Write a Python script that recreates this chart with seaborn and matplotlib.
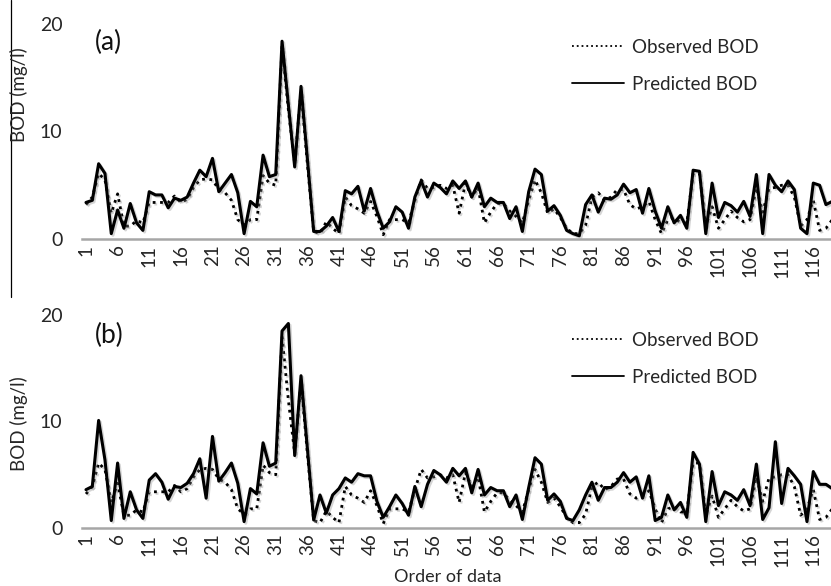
import matplotlib
matplotlib.use("Agg")
import matplotlib.pyplot as plt
import matplotlib.patheffects as pe
from matplotlib.lines import Line2D
import seaborn as sns
import pandas as pd

# data (order 1..119)
order = list(range(1, 120))

observed = [3.2, 3.9, 6.1, 5.5, 2.4, 4.2, 1.2, 1.2, 1.7, 1.5,
            3.4, 3.4, 3.4, 3.4, 4.0, 3.4, 3.7, 4.8, 5.5, 5.6,
            5.5, 4.6, 4.3, 3.6, 1.8, 1.3, 1.8, 1.8, 5.9, 5.2,
            5.0, 18.0, 12.0, 7.0, 13.8, 7.0, 0.7, 0.5, 1.6, 1.0,
            0.5, 3.9, 3.1, 2.8, 2.4, 3.5, 2.1, 0.4, 1.8, 1.8,
            1.8, 1.5, 3.6, 5.5, 4.7, 4.8, 5.0, 4.7, 5.0, 2.4,
            5.2, 3.9, 4.8, 1.5, 2.5, 3.3, 3.3, 2.6, 2.1, 1.5,
            3.6, 5.5, 4.3, 2.4, 2.8, 2.0, 1.0, 0.5, 0.5, 1.3,
            3.9, 4.3, 3.6, 3.9, 4.6, 4.6, 3.2, 2.8, 3.0, 3.5,
            1.8, 0.5, 1.8, 2.0, 1.5, 1.5, 6.1, 6.1, 1.2, 3.0,
            1.0, 1.8, 2.6, 2.0, 1.6, 1.8, 4.8, 2.5, 4.7, 4.8,
            5.0, 5.0, 3.9, 1.2, 1.8, 3.6, 0.8, 1.0, 1.8]

predicted_a = [3.4, 3.6, 7.0, 6.1, 0.5, 2.7, 1.0, 3.3, 1.5, 0.8,
               4.4, 4.1, 4.1, 2.9, 3.8, 3.6, 3.9, 5.2, 6.4, 5.8,
               7.5, 4.4, 5.2, 6.0, 4.3, 0.5, 3.5, 3.0, 7.8, 5.8,
               6.0, 18.4, 12.5, 6.7, 14.2, 7.5, 0.7, 0.7, 1.2, 2.0,
               0.7, 4.5, 4.2, 4.9, 2.6, 4.7, 2.6, 1.0, 1.6, 3.0,
               2.5, 1.0, 3.9, 5.4, 3.9, 5.2, 4.8, 4.2, 5.4, 4.7,
               5.4, 3.9, 5.2, 3.0, 3.8, 3.4, 3.4, 1.9, 3.0, 0.7,
               4.4, 6.5, 6.0, 2.6, 3.1, 2.2, 0.8, 0.5, 0.3, 3.2,
               4.1, 2.5, 3.8, 3.7, 4.1, 5.1, 4.3, 4.6, 2.4, 4.7,
               2.6, 1.0, 3.0, 1.5, 2.2, 1.0, 6.4, 6.3, 0.5, 5.2,
               2.0, 3.4, 3.1, 2.5, 3.5, 2.1, 6.0, 0.5, 6.0, 5.0,
               4.4, 5.4, 4.6, 1.0, 0.5, 5.2, 5.0, 3.2, 3.5]

predicted_b = [3.6, 3.9, 10.1, 6.4, 0.7, 6.1, 0.9, 3.4, 1.7, 0.9,
               4.5, 5.1, 4.3, 2.7, 3.9, 3.8, 4.2, 5.1, 6.5, 2.8,
               8.6, 4.4, 5.2, 6.1, 4.2, 0.6, 3.7, 3.2, 8.0, 5.8,
               6.1, 18.5, 19.2, 6.8, 14.3, 7.5, 0.75, 3.1, 1.4, 3.1,
               3.7, 4.7, 4.3, 5.1, 4.9, 4.9, 2.5, 1.0, 2.0, 3.1,
               2.3, 1.2, 3.9, 2.0, 4.1, 5.4, 5.0, 4.3, 5.6, 4.9,
               5.6, 3.3, 5.5, 3.1, 3.8, 3.5, 3.5, 2.0, 3.1, 0.8,
               3.8, 6.6, 6.0, 2.6, 3.2, 2.5, 0.9, 0.7, 1.7, 3.1,
               4.3, 2.6, 3.8, 3.8, 4.3, 5.2, 4.3, 4.8, 2.8, 4.9,
               0.7, 1.0, 3.1, 1.7, 2.4, 1.0, 7.1, 6.0, 0.6, 5.3,
               2.1, 3.4, 3.1, 2.6, 3.6, 2.1, 6.0, 0.8, 1.9, 8.1,
               2.3, 5.6, 4.9, 4.1, 0.6, 5.3, 4.1, 4.1, 3.7]

xticks = list(range(1, 120, 5))
yticks = [0, 10, 20]
panel_labels = ["(a)", "(b)"]

sns.set_theme(style="white")
plt.rcParams['font.family'] = ['Lato', 'DejaVu Sans']

W, H = 831, 586
fig = plt.figure(figsize=(W / 100, H / 100), dpi=100)

def px_box(left, top, right, bottom):
    return [left / W, 1 - bottom / H, (right - left) / W, (bottom - top) / H]

ax_a = fig.add_axes(px_box(82, 24, 831, 239))
ax_b = fig.add_axes(px_box(82, 315, 831, 528))

shadow = [pe.SimpleLineShadow(offset=(1.2, -1.2), shadow_color='#888888', alpha=0.35), pe.Normal()]
text_col = '#262626'

for ax, pred in [(ax_a, predicted_a), (ax_b, predicted_b)]:
    df = pd.DataFrame({'order': order, 'obs': observed, 'pred': pred})
    sns.lineplot(data=df, x='order', y='obs', ax=ax, color='black',
                 linestyle=':', linewidth=2.0, path_effects=shadow)
    sns.lineplot(data=df, x='order', y='pred', ax=ax, color='black',
                 linestyle='-', linewidth=2.2, path_effects=shadow)
    ax.set_xlim(0.37, 118.8)
    ax.set_ylim(0, 20)
    ax.set_xticks(xticks)
    ax.set_xticklabels([str(t) for t in xticks], rotation=90, fontsize=13.5, color=text_col)
    ax.set_yticks(yticks)
    ax.set_yticklabels([str(t) for t in yticks], fontsize=14, color=text_col)
    ax.tick_params(axis='x', length=0, pad=4)
    ax.tick_params(axis='y', length=0, pad=14)
    ax.set_xlabel('')
    ax.set_ylabel('')
    for s in ['top', 'right', 'left']:
        ax.spines[s].set_visible(False)
    ax.spines['bottom'].set_color('#a6a6a6')
    ax.spines['bottom'].set_linewidth(1.8)
    ax.patch.set_alpha(0)

handles = [Line2D([], [], color='black', linestyle=':', linewidth=1.3),
           Line2D([], [], color='black', linestyle='-', linewidth=1.3)]
labels = ['Observed BOD', 'Predicted BOD']
for ax, top_px in [(ax_a, 39), (ax_b, 332)]:
    leg = ax.legend(handles, labels, loc='upper left', frameon=False,
                    bbox_to_anchor=(572 / W, 1 - top_px / H), bbox_transform=fig.transFigure,
                    fontsize=13.5, handlelength=2.75, handletextpad=0.45, labelspacing=1.05,
                    borderpad=0, borderaxespad=0)
    for t in leg.get_texts():
        t.set_color(text_col)

# panel tags and axis titles
fig.text(95 / W, 1 - 42 / H, panel_labels[0], fontsize=19, va='center', ha='left', color='#111111')
fig.text(95 / W, 1 - 335 / H, panel_labels[1], fontsize=19, va='center', ha='left', color='#111111')
fig.text(19 / W, 1 - 95 / H, 'BOD (mg/l)', rotation=90, fontsize=13.5, va='center', ha='center', color=text_col)
fig.text(19 / W, 1 - 424 / H, 'BOD (mg/l)', rotation=90, fontsize=13.5, va='center', ha='center', color=text_col)
fig.text(448 / W, 1 - 577 / H, 'Order of data', fontsize=13, va='center', ha='center', color=text_col)

# thin frame edge on the left of the top panel
fig.add_artist(Line2D([11 / W, 11 / W], [1, 1 - 297 / H], color='black', linewidth=0.9))

fig.savefig('out.png', dpi=100)
